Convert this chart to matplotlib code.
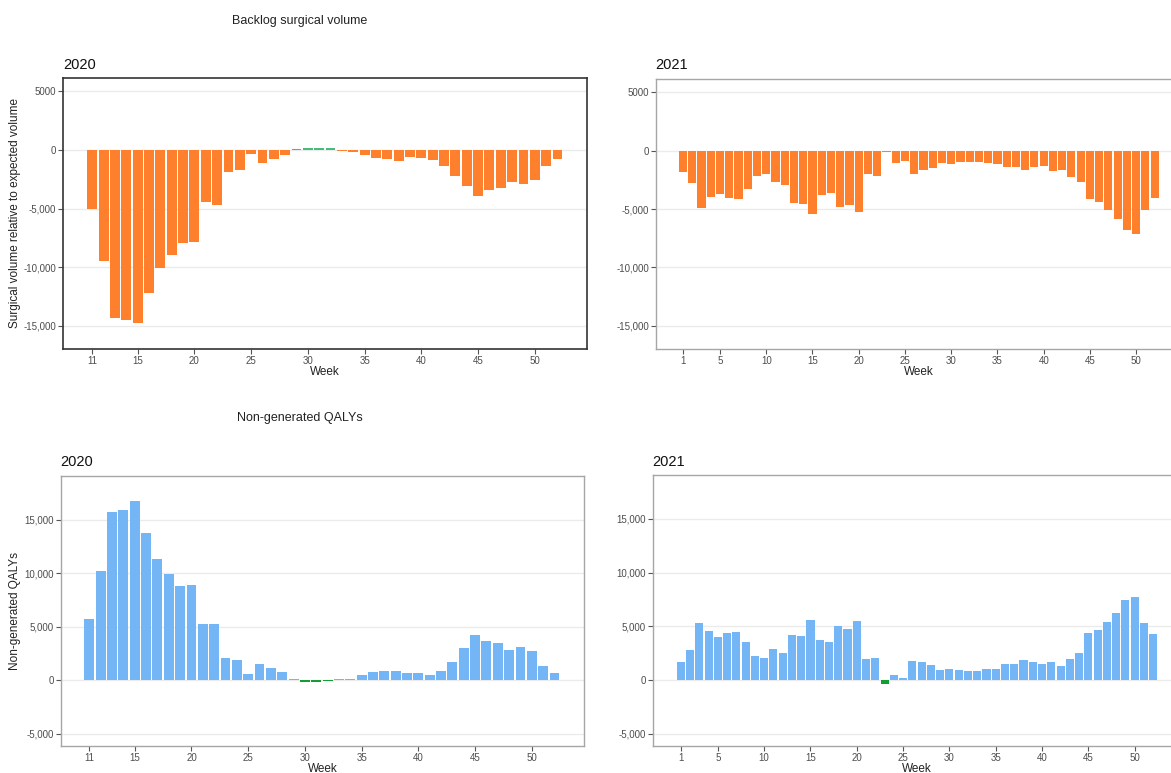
import numpy as np
import matplotlib.pyplot as plt
from matplotlib.ticker import FuncFormatter

plt.rcParams['font.family'] = ['Liberation Sans', 'DejaVu Sans']

# ---- data ----
weeks_2020 = list(range(11, 53))
weeks_2021 = list(range(1, 53))

backlog_2020 = [-5030, -9490, -14350, -14550, -14770, -12220, -10110, -9000, -7930, -7840,
                -4430, -4660, -1850, -1700, -340, -1080, -770, -430, 120, 130,
                130, 130, -90, -160, -400, -680, -770, -910, -630, -680,
                -820, -1360, -2190, -3070, -3890, -3410, -3270, -2730, -2870, -2590,
                -1360, -740]

backlog_2021 = [-1820, -2780, -4920, -4010, -3750, -4090, -4180, -3320, -2190, -2020,
                -2700, -2930, -4490, -4580, -5400, -3810, -3640, -4860, -4630, -5260,
                -1960, -2190, -80, -1080, -880, -1960, -1620, -1480, -1080, -1170,
                -1000, -940, -940, -1080, -1140, -1420, -1420, -1620, -1390, -1340,
                -1760, -1620, -2250, -2640, -4150, -4430, -5110, -5850, -6820, -7160,
                -5110, -4090]

qaly_2020 = [5760, 10200, 15710, 15900, 16770, 13780, 11320, 9950, 8840, 8900,
             5290, 5290, 2080, 1930, 590, 1490, 1180, 750, 90, -180,
             -180, -100, 90, 80, 500, 750, 900, 840, 690, 690,
             500, 840, 1710, 2990, 4200, 3670, 3450, 2830, 3080, 2770,
             1340, 690]

qaly_2021 = [1650, 2830, 5320, 4580, 4050, 4420, 4480, 3520, 2240, 2020,
             2930, 2550, 4200, 4140, 5600, 3740, 3580, 5040, 4790, 5480,
             1960, 2080, -370, 440, 220, 1800, 1650, 1430, 900, 1000,
             900, 840, 840, 1000, 1060, 1490, 1490, 1870, 1710, 1490,
             1650, 1280, 1930, 2550, 4360, 4640, 5380, 6220, 7440, 7720,
             5320, 4260]

ticks_2020 = [11, 15, 20, 25, 30, 35, 40, 45, 50]
ticks_2021 = [1, 5, 10, 15, 20, 25, 30, 35, 40, 45, 50]
yticks_backlog = [5000, 0, -5000, -10000, -15000]
yticks_qaly = [15000, 10000, 5000, 0, -5000]

ORANGE = '#FE7F2C'
BLUE = '#74B5F6'
GREEN_LIGHT = '#45BC7C'   # surplus in the backlog panels
GREEN = '#139E33'         # negative QALYs

W, H = 1171, 773
fig = plt.figure(figsize=(W / 100, H / 100), dpi=100)


def px_axes(left, top, right, bottom):
    return fig.add_axes([left / W, 1 - bottom / H, (right - left) / W, (bottom - top) / H])


def backlog_fmt(v, pos):
    # ggplot label quirk: positive 5000 shown without a comma
    if v > 0:
        return '%d' % v
    return '{:,.0f}'.format(v)


def qaly_fmt(v, pos):
    return '{:,.0f}'.format(v)


def style_panel(ax, xticks, yticks, fmt, frame_color, frame_lw):
    ax.set_xticks(xticks)
    ax.set_yticks(yticks)
    ax.yaxis.set_major_formatter(FuncFormatter(fmt))
    ax.grid(axis='y', color='#EBEBEB', linewidth=1.0)
    ax.set_axisbelow(True)
    for s in ax.spines.values():
        s.set_color(frame_color)
        s.set_linewidth(frame_lw)
    ax.tick_params(length=3.5, width=0.8, color='#555555', labelsize=7,
                   labelcolor='#4D4D4D', pad=1.5)
    ax.set_xlabel('Week', fontsize=8.5, labelpad=0, color='#222222')


def draw(ax, weeks, vals, neg_color, pos_color):
    cols = [pos_color if v > 0 else neg_color for v in vals]
    ax.bar(weeks, vals, width=0.87, color=cols, linewidth=0)


# top-left: backlog 2020
ax1 = px_axes(63, 78, 587, 349)
draw(ax1, weeks_2020, backlog_2020, ORANGE, GREEN_LIGHT)
ax1.set_xlim(8.42, 54.6)
ax1.set_ylim(-17000, 6150)
style_panel(ax1, ticks_2020, yticks_backlog, backlog_fmt, '#333333', 1.2)
ax1.set_ylabel('Surgical volume relative to expected volume', fontsize=8.5, color='#222222')
ax1.yaxis.set_label_coords(-0.080, 0.5)

# top-right: backlog 2021
ax2 = px_axes(656, 79, 1182, 349)
draw(ax2, weeks_2021, backlog_2021, ORANGE, GREEN_LIGHT)
ax2.set_xlim(-1.92, 54.95)
ax2.set_ylim(-17000, 6150)
style_panel(ax2, ticks_2021, yticks_backlog, backlog_fmt, '#A6A6A6', 1.0)

# bottom-left: QALYs 2020
ax3 = px_axes(61, 476, 584, 746)
draw(ax3, weeks_2020, qaly_2020, GREEN, BLUE)
ax3.set_xlim(8.5, 54.6)
ax3.set_ylim(-6140, 19090)
style_panel(ax3, ticks_2020, yticks_qaly, qaly_fmt, '#A6A6A6', 1.0)
ax3.set_ylabel('Non-generated QALYs', fontsize=8.5, color='#222222')
ax3.yaxis.set_label_coords(-0.0765, 0.5)

# bottom-right: QALYs 2021
ax4 = px_axes(653, 475, 1181, 746)
draw(ax4, weeks_2021, qaly_2021, GREEN, BLUE)
ax4.set_xlim(-2.0, 55.0)
ax4.set_ylim(-6140, 19090)
style_panel(ax4, ticks_2021, yticks_qaly, qaly_fmt, '#A6A6A6', 1.0)

# titles
fig.text(300 / W, 1 - 21 / H, 'Backlog surgical volume', ha='center', va='center',
         fontsize=9, color='#222222')
fig.text(300 / W, 1 - 418 / H, 'Non-generated QALYs', ha='center', va='center',
         fontsize=9, color='#222222')
for x, y, t in [(63, 65, '2020'), (655, 65, '2021'), (60, 462, '2020'), (652, 462, '2021')]:
    fig.text(x / W, 1 - y / H, t, ha='left', va='center', fontsize=10.5, color='#111111')

fig.savefig('out.png', dpi=100)
